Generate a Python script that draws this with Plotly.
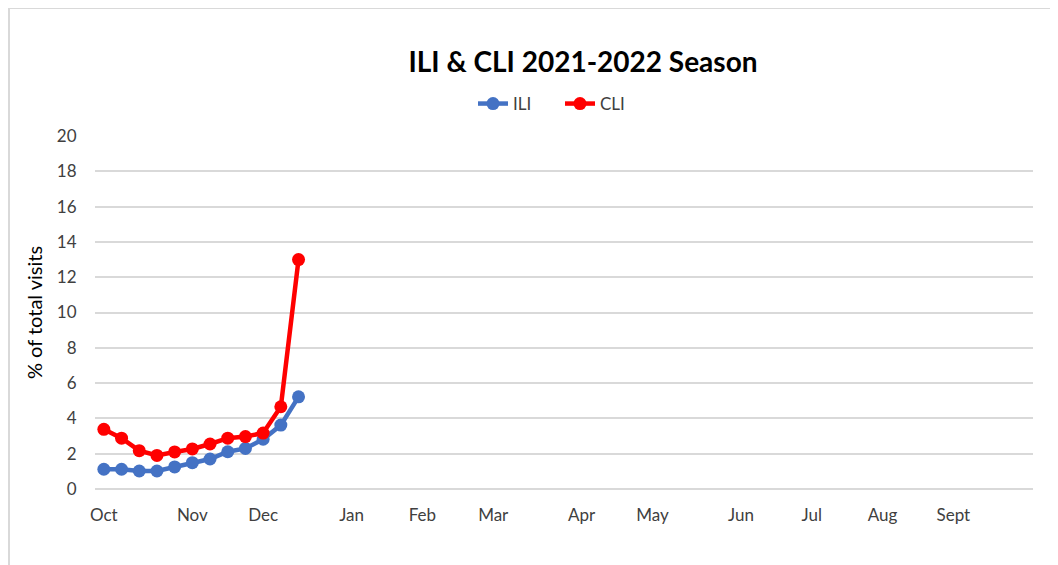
import plotly.graph_objects as go

# ---- data ----
weeks = list(range(12))  # week index from first week of October
ili = [1.12, 1.12, 1.02, 1.02, 1.25, 1.49, 1.70, 2.11, 2.30, 2.82, 3.62, 5.22]
cli = [3.38, 2.88, 2.17, 1.90, 2.10, 2.27, 2.55, 2.88, 2.97, 3.17, 4.66, 13.0]
month_ticks = [0, 5, 9, 14, 18, 22, 27, 31, 36, 40, 44, 48]
month_labels = ["Oct", "Nov", "Dec", "Jan", "Feb", "Mar", "Apr", "May", "Jun", "Jul", "Aug", "Sept"]
n_weeks = 53

FONT = "Lato, 'Noto Sans', sans-serif"
OFF = 7  # page offset of the figure in the screenshot

L, R, T, B = 94 - OFF, 1058 - 1032 + OFF, 135 - OFF, 565 - 488 + OFF
PW, PH = 1058 - L - R, 565 - T - B


def px(x):
    return (x - OFF - L) / PW


def py(y):
    return (565 - B - (y - OFF)) / PH


fig = go.Figure()
fig.add_trace(go.Scatter(
    x=weeks, y=ili, name="ILI", mode="lines+markers",
    line=dict(color="#4472C4", width=4.5),
    marker=dict(color="#4472C4", size=13),
))
fig.add_trace(go.Scatter(
    x=weeks, y=cli, name="CLI", mode="lines+markers",
    line=dict(color="#FF0000", width=4.5),
    marker=dict(color="#FF0000", size=13),
))

fig.update_layout(
    width=1058, height=565,
    margin=dict(l=L, r=R, t=T, b=B),
    paper_bgcolor="white", plot_bgcolor="white",
    font=dict(family=FONT, color="#595959", size=16),
    title=dict(text="<b>ILI & CLI 2021-2022 Season</b>", x=(582 - OFF) / 1058, y=1 - (61 - OFF) / 565,
               xref="container", yref="container", xanchor="center", yanchor="middle",
               font=dict(size=28, color="#000000", family=FONT)),
    showlegend=True,
    legend=dict(orientation="h", x=px(472), y=py(103), xanchor="left", yanchor="middle",
                font=dict(size=17, color="#404040"), entrywidth=42, entrywidthmode="pixels",
                itemwidth=30, tracegroupgap=0, bgcolor="rgba(0,0,0,0)"),
    xaxis=dict(
        range=[-0.5, n_weeks - 0.5], tickmode="array", tickvals=month_ticks, ticktext=month_labels,
        showgrid=False, zeroline=False, showline=False, ticks="outside", ticklen=11,
        tickcolor="rgba(0,0,0,0)", tickfont=dict(size=17, color="#404040"), fixedrange=True,
    ),
    yaxis=dict(
        range=[0, 20], tickmode="linear", tick0=0, dtick=2,
        showgrid=True, gridcolor="#d9d9d9", gridwidth=1.6, zeroline=True, zerolinecolor="#d9d9d9",
        zerolinewidth=1.6, showline=False, ticks="outside", ticklen=14, tickcolor="rgba(0,0,0,0)",
        tickfont=dict(size=17, color="#404040"),
        title=dict(text="% of total visits", font=dict(size=20, color="#000000"), standoff=8),
    ),
    shapes=[
        dict(type="line", xref="paper", yref="paper", x0=px(OFF + 1), x1=px(OFF + 1),
             y0=py(7), y1=-0.3, line=dict(color="#d9d9d9", width=2)),
        dict(type="line", xref="paper", yref="paper", x0=px(OFF + 1), x1=1.2,
             y0=py(7), y1=py(7), line=dict(color="#d9d9d9", width=2)),
    ],
)

fig.write_html("out.html")
